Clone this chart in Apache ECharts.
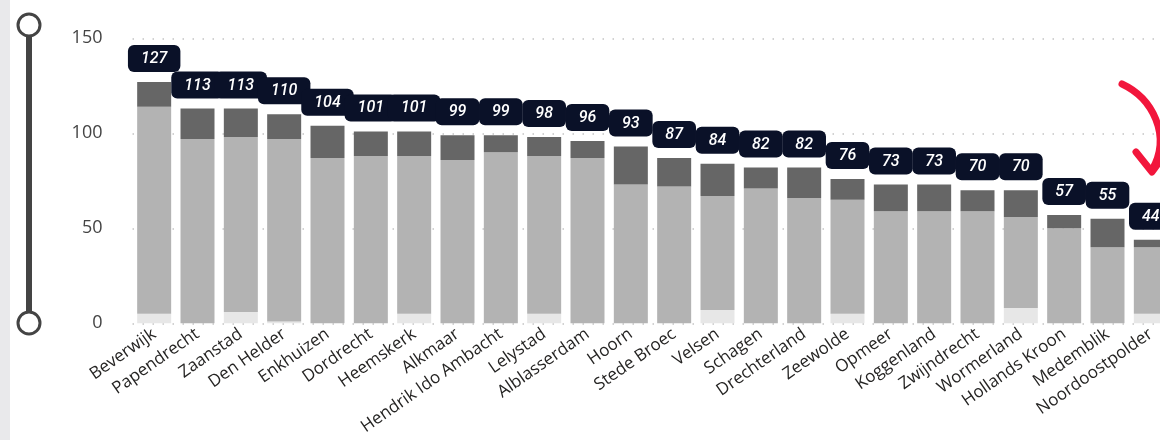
<!DOCTYPE html>
<html>
<head>
<meta charset="utf-8">
<script src="https://cdn.jsdelivr.net/npm/echarts@6/dist/echarts.min.js"></script>
<style>
html,body{margin:0;padding:0;background:#fff;overflow:hidden;width:1160px;height:440px;}
#c{width:1190px;height:440px;}
</style>
</head>
<body>
<div id="c"></div>
<script>
var categories = ["Beverwijk","Papendrecht","Zaanstad","Den Helder","Enkhuizen","Dordrecht","Heemskerk","Alkmaar","Hendrik Ido Ambacht","Lelystad","Alblasserdam","Hoorn","Stede Broec","Velsen","Schagen","Drechterland","Zeewolde","Opmeer","Koggenland","Zwijndrecht","Wormerland","Hollands Kroon","Medemblik","Noordoostpolder"];
var lightValues = [5,0,6,1,0,0,5,0,0,5,0,0,0,7,0,0,5,0,0,0,8,0,0,5];
var midValues   = [109,97,92,96,87,88,83,86,90,83,87,73,72,60,71,66,60,59,59,59,48,50,40,35];
var darkValues  = [13,16,15,13,17,13,13,13,9,10,9,20,15,17,11,16,11,14,14,11,14,7,15,4];
var totals      = [127,113,113,110,104,101,101,99,99,98,96,93,87,84,82,82,76,73,73,70,70,57,55,44];
var yTicks = [0,50,100,150];

var chart = echarts.init(document.getElementById('c'), null, {renderer:'canvas'});
var barW = 34;
chart.setOption({
  animation:false,
  grid:{left:132.5, top:38.3, width:1040, height:285},
  xAxis:{
    type:'category', data:categories,
    axisLine:{show:false}, axisTick:{show:false},
    axisLabel:{rotate:35, interval:0, margin:9, fontSize:17, color:'#252423', fontFamily:'Open Sans'}
  },
  yAxis:{
    type:'value', min:yTicks[0], max:yTicks[yTicks.length-1], interval:50,
    axisLine:{show:false}, axisTick:{show:false},
    axisLabel:{fontSize:18, color:'#444', margin:30, fontFamily:'Open Sans'},
    splitLine:{lineStyle:{color:'#c4c4c4', width:1.5, type:[1.5,8.5]}}
  },
  series:[
    {type:'bar', stack:'s', barWidth:barW, data:lightValues, itemStyle:{color:'#e7e7e7'}},
    {type:'bar', stack:'s', barWidth:barW, data:midValues, itemStyle:{color:'#b3b3b3'}},
    {type:'bar', stack:'s', barWidth:barW, data:darkValues, itemStyle:{color:'#666666'},
      label:{show:true, position:'top', distance:10,
        formatter:function(p){return totals[p.dataIndex];},
        color:'#fff', fontSize:16, fontStyle:'italic', fontWeight:500, fontFamily:'Roboto',
        backgroundColor:'#0a1128', borderRadius:6, padding:[6,13,5,13], lineHeight:16}
    }
  ],
  graphic:[
    {type:'rect', shape:{x:0,y:0,width:10,height:440}, style:{fill:'#e9e9eb'}},
    {type:'line', shape:{x1:29,y1:25,x2:29,y2:323}, style:{stroke:'#444',lineWidth:6}},
    {type:'circle', shape:{cx:29,cy:25,r:11}, style:{fill:'#fff',stroke:'#444',lineWidth:3}},
    {type:'circle', shape:{cx:29,cy:323,r:11}, style:{fill:'#fff',stroke:'#444',lineWidth:3}},
    {type:'bezierCurve', shape:{x1:1122,y1:84,cpx1:1152,cpy1:98,cpx2:1172,cpy2:135,x2:1152,y2:170}, style:{fill:null,stroke:'#f2163c',lineWidth:7,lineCap:'round'}, z:100},
    {type:'polyline', shape:{points:[[1136,152],[1152,172],[1168,150]]}, style:{fill:null,stroke:'#f2163c',lineWidth:7,lineCap:'round',lineJoin:'round'}, z:100}
  ]
});
</script>
</body>
</html>
